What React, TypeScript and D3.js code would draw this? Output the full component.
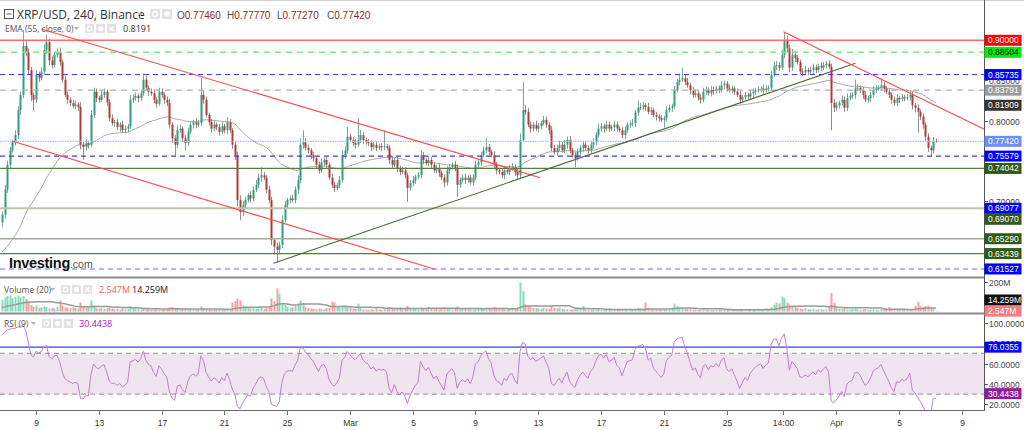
import React, { useEffect, useRef } from "react";
import * as d3 from "d3";

// ---------------- DATA ----------------
const symbolTitle = "XRP/USD, 240, Binance";
const ohlcKeys = ["O", "H", "L", "C"];
const ohlcValues = ["0.77460", "0.77770", "0.77270", "0.77420"];
const emaTitle = "EMA (55, close, 0)";
const emaValueText = "0.8191";
const volTitle = "Volume (20)";
const volValueTexts = ["2.547M", "14.259M"];
const rsiTitle = "RSI (9)";
const rsiValueText = "30.4438";

// 4h candles, first candle at 2022-02-06 20:00 UTC
const firstCandleUTC = [2022, 1, 6, 20];
const firstOpen = 0.673;
const closes = [
  0.683, 0.714, 0.745, 0.763, 0.773, 0.782, 0.813, 0.832, 0.893, 0.885, 0.863, 0.832, 0.826, 0.857, 0.853, 0.861, 0.888, 0.898, 0.875, 0.869,
  0.882, 0.885, 0.873, 0.851, 0.832, 0.826, 0.822, 0.818, 0.82, 0.817, 0.77, 0.767, 0.772, 0.77, 0.807, 0.836, 0.828, 0.826, 0.832, 0.836,
  0.823, 0.803, 0.797, 0.798, 0.792, 0.795, 0.788, 0.79, 0.793, 0.826, 0.828, 0.831, 0.828, 0.834, 0.851, 0.841, 0.836, 0.834, 0.826, 0.821,
  0.836, 0.832, 0.826, 0.822, 0.795, 0.778, 0.77, 0.788, 0.79, 0.778, 0.772, 0.786, 0.795, 0.798, 0.795, 0.797, 0.832, 0.826, 0.807, 0.798,
  0.79, 0.795, 0.792, 0.786, 0.793, 0.788, 0.798, 0.788, 0.77, 0.757, 0.701, 0.686, 0.695, 0.701, 0.707, 0.703, 0.714, 0.72, 0.729, 0.732,
  0.729, 0.714, 0.701, 0.651, 0.643, 0.639, 0.645, 0.676, 0.695, 0.701, 0.703, 0.701, 0.714, 0.726, 0.77, 0.773, 0.766, 0.763, 0.757, 0.753,
  0.745, 0.738, 0.748, 0.751, 0.745, 0.729, 0.72, 0.716, 0.72, 0.726, 0.757, 0.763, 0.78, 0.776, 0.772, 0.77, 0.776, 0.782, 0.776, 0.773,
  0.772, 0.767, 0.77, 0.766, 0.768, 0.767, 0.768, 0.766, 0.751, 0.745, 0.751, 0.741, 0.736, 0.738, 0.732, 0.716, 0.722, 0.726, 0.73, 0.732,
  0.757, 0.751, 0.747, 0.751, 0.745, 0.738, 0.741, 0.735, 0.729, 0.723, 0.738, 0.742, 0.745, 0.741, 0.72, 0.726, 0.729, 0.726, 0.729, 0.723,
  0.729, 0.745, 0.748, 0.757, 0.763, 0.767, 0.761, 0.757, 0.745, 0.738, 0.736, 0.732, 0.738, 0.736, 0.741, 0.742, 0.736, 0.732, 0.776, 0.813,
  0.811, 0.795, 0.79, 0.795, 0.79, 0.793, 0.797, 0.801, 0.795, 0.788, 0.766, 0.761, 0.766, 0.77, 0.763, 0.77, 0.776, 0.763, 0.757, 0.753,
  0.761, 0.766, 0.77, 0.766, 0.763, 0.77, 0.773, 0.782, 0.79, 0.793, 0.79, 0.795, 0.79, 0.792, 0.795, 0.79, 0.788, 0.782, 0.788, 0.795,
  0.796, 0.797, 0.81, 0.816, 0.817, 0.819, 0.817, 0.811, 0.813, 0.807, 0.805, 0.803, 0.801, 0.803, 0.813, 0.816, 0.818, 0.838, 0.848, 0.851,
  0.853, 0.848, 0.844, 0.838, 0.832, 0.834, 0.829, 0.826, 0.836, 0.838, 0.834, 0.838, 0.837, 0.84, 0.838, 0.844, 0.846, 0.84, 0.838, 0.84,
  0.836, 0.832, 0.826, 0.829, 0.832, 0.83, 0.834, 0.836, 0.838, 0.839, 0.84, 0.838, 0.84, 0.841, 0.857, 0.868, 0.869, 0.866, 0.882, 0.9,
  0.89, 0.866, 0.882, 0.878, 0.873, 0.861, 0.86, 0.863, 0.861, 0.863, 0.866, 0.863, 0.868, 0.866, 0.869, 0.871, 0.867, 0.822, 0.816, 0.819,
  0.822, 0.826, 0.816, 0.828, 0.831, 0.832, 0.84, 0.841, 0.838, 0.832, 0.826, 0.828, 0.832, 0.838, 0.84, 0.841, 0.844, 0.84, 0.836, 0.832,
  0.826, 0.822, 0.828, 0.827, 0.829, 0.828, 0.829, 0.832, 0.819, 0.816, 0.811, 0.805, 0.795, 0.78, 0.766, 0.763, 0.7746, 0.7742,
];
// upper / lower shadows, in thousandths of a dollar
const wickHi = [
  4, 6, 5, 4, 3, 6, 5, 4, 20, 6, 5, 4, 3, 6, 4, 5, 7, 9, 4, 5,
  4, 5, 6, 3, 5, 4, 3, 4, 5, 3, 6, 4, 5, 3, 6, 5, 4, 3, 5, 4,
  3, 4, 5, 3, 4, 3, 5, 4, 3, 6, 5, 4, 3, 4, 8, 5, 3, 4, 5, 3,
  5, 4, 3, 4, 5, 3, 4, 6, 5, 3, 4, 5, 4, 3, 5, 4, 21, 5, 4, 3,
  4, 5, 3, 4, 5, 3, 6, 4, 3, 5, 4, 6, 5, 4, 3, 5, 4, 6, 5, 10,
  4, 3, 5, 4, 3, 5, 4, 6, 5, 3, 4, 5, 4, 6, 8, 15, 5, 4, 3, 4,
  3, 4, 5, 3, 4, 3, 5, 4, 3, 5, 6, 5, 12, 4, 3, 5, 27, 6, 4, 3,
  4, 3, 5, 4, 3, 4, 20, 3, 4, 5, 3, 4, 3, 5, 4, 3, 4, 5, 3, 4,
  6, 4, 3, 5, 4, 3, 4, 5, 3, 4, 5, 4, 3, 5, 4, 3, 4, 5, 3, 4,
  4, 5, 3, 4, 5, 11, 4, 3, 5, 4, 3, 4, 5, 3, 4, 5, 3, 4, 8, 35,
  6, 5, 4, 3, 5, 4, 3, 5, 4, 3, 5, 4, 3, 5, 4, 6, 4, 5, 3, 4,
  4, 3, 5, 4, 3, 4, 5, 4, 6, 4, 3, 5, 4, 3, 5, 4, 3, 4, 5, 3,
  4, 5, 3, 9, 5, 4, 3, 5, 4, 3, 4, 3, 4, 3, 5, 4, 3, 5, 4, 6,
  13, 4, 5, 3, 4, 5, 3, 4, 5, 4, 3, 5, 4, 3, 4, 5, 4, 3, 5, 4,
  3, 4, 5, 3, 4, 3, 5, 4, 3, 4, 3, 5, 4, 3, 5, 6, 5, 4, 6, 10,
  6, 5, 7, 5, 4, 3, 4, 5, 3, 4, 5, 4, 3, 5, 4, 3, 4, 4, 5, 4,
  3, 5, 4, 6, 4, 3, 11, 4, 3, 4, 5, 3, 4, 5, 4, 3, 9, 4, 3, 4,
  3, 4, 5, 3, 4, 3, 4, 6, 4, 3, 4, 3, 4, 3, 4, 3, 5, 3.1,
];
const wickLo = [
  6, 5, 4, 5, 3, 4, 5, 6, 4, 5, 6, 8, 14, 4, 5, 3, 4, 5, 6, 4,
  3, 4, 5, 4, 3, 5, 4, 3, 4, 5, 6, 16, 4, 5, 3, 4, 5, 4, 3, 4,
  5, 4, 3, 5, 4, 6, 3, 4, 5, 3, 4, 3, 5, 4, 3, 4, 5, 3, 4, 5,
  3, 4, 5, 4, 5, 6, 14, 4, 3, 5, 9, 4, 3, 5, 4, 3, 4, 5, 3, 4,
  5, 3, 4, 5, 3, 4, 5, 4, 5, 6, 8, 10, 5, 4, 3, 5, 4, 3, 4, 5,
  3, 5, 4, 6, 10, 16, 5, 4, 3, 5, 4, 3, 4, 5, 4, 5, 3, 4, 5, 4,
  5, 4, 3, 4, 5, 3, 4, 5, 3, 4, 3, 5, 4, 3, 4, 5, 3, 4, 5, 3,
  4, 5, 3, 4, 3, 5, 4, 3, 5, 4, 3, 5, 4, 3, 4, 17, 3, 4, 5, 3,
  4, 5, 3, 4, 5, 3, 4, 5, 3, 6, 4, 5, 3, 4, 15, 4, 3, 5, 4, 3,
  4, 3, 5, 4, 3, 4, 5, 3, 4, 5, 3, 4, 5, 3, 4, 3, 5, 6, 4, 3,
  4, 3, 5, 4, 3, 5, 4, 3, 4, 5, 4, 3, 5, 4, 3, 4, 5, 4, 3, 11,
  3, 4, 5, 3, 4, 3, 5, 4, 3, 4, 5, 3, 4, 3, 5, 4, 3, 4, 5, 3,
  4, 3, 5, 4, 3, 4, 5, 3, 4, 3, 5, 4, 3, 10, 4, 3, 5, 4, 3, 4,
  3, 4, 3, 5, 4, 3, 4, 5, 3, 4, 3, 4, 5, 3, 4, 3, 5, 4, 3, 4,
  4, 3, 5, 4, 3, 4, 3, 5, 4, 3, 4, 5, 3, 4, 4, 3, 5, 4, 3, 4,
  5, 6, 4, 5, 3, 4, 5, 3, 4, 3, 5, 4, 3, 4, 3, 4, 3, 34, 5, 4,
  4, 3, 5, 4, 3, 4, 5, 3, 4, 5, 3, 4, 5, 3, 4, 3, 4, 5, 3, 4,
  5, 3, 4, 5, 3, 4, 3, 4, 5, 6, 26, 4, 5, 6, 5, 8, 4, 1.5,
];
// volume per candle, millions
const volumes = [
  80, 95, 105, 110, 90, 100, 108, 95, 105, 85, 70, 45, 30, 40, 25, 28, 35, 30, 22, 25,
  20, 30, 75, 40, 28, 25, 22, 28, 25, 20, 61, 35, 25, 30, 75, 40, 22, 20, 25, 18,
  22, 28, 20, 15, 18, 12, 20, 15, 18, 35, 22, 18, 15, 12, 25, 20, 15, 12, 18, 15,
  12, 15, 10, 14, 28, 30, 25, 22, 15, 12, 18, 14, 12, 10, 15, 12, 34, 20, 15, 12,
  10, 12, 15, 10, 12, 14, 12, 15, 61, 70, 88, 75, 40, 30, 25, 20, 22, 18, 20, 25,
  18, 22, 30, 88, 70, 156, 120, 60, 45, 30, 25, 28, 40, 55, 75, 60, 30, 25, 20, 18,
  15, 20, 18, 15, 22, 25, 67, 60, 30, 29, 40, 35, 29, 25, 20, 18, 53, 22, 15, 12,
  12, 15, 10, 20, 14, 12, 18, 15, 30, 25, 20, 24, 28, 20, 25, 38, 22, 18, 15, 12,
  25, 20, 15, 30, 24, 20, 18, 15, 25, 30, 22, 18, 14, 20, 35, 24, 20, 18, 15, 14,
  12, 15, 20, 18, 15, 24, 20, 22, 30, 25, 20, 18, 15, 14, 18, 15, 20, 22, 197, 139,
  48, 40, 30, 25, 22, 20, 18, 25, 20, 18, 36, 24, 20, 28, 18, 15, 14, 12, 15, 20,
  18, 15, 36, 14, 12, 10, 12, 10, 15, 12, 14, 10, 12, 9, 12, 10, 12, 14, 10, 9,
  12, 15, 20, 25, 20, 18, 60, 25, 18, 15, 12, 10, 14, 12, 15, 20, 25, 53, 35, 30,
  25, 20, 18, 15, 12, 14, 12, 10, 15, 12, 10, 9, 12, 10, 14, 12, 10, 12, 9, 10,
  12, 14, 10, 12, 15, 10, 12, 14, 15, 18, 12, 15, 20, 18, 29, 45, 60, 55, 100, 91,
  60, 45, 35, 30, 25, 20, 18, 22, 15, 14, 18, 12, 15, 14, 12, 14, 30, 125, 60, 29,
  20, 18, 22, 15, 14, 18, 20, 15, 12, 14, 15, 12, 10, 14, 12, 10, 15, 18, 14, 29,
  15, 18, 12, 14, 10, 12, 14, 12, 18, 40, 65, 36, 30, 36, 40, 25, 18, 2.547,
];
const volPriorAvg = 25; // level of the 20-bar average before the first visible bar
const emaPeriod = 55;
const emaSeed = 0.635; // EMA value before the first visible candle
const rsiPeriod = 9;
const rsiSeedGain = 0.01;
const rsiSeedLoss = 0.0016;

// horizontal levels drawn on the chart
const levelValues = [0.9, 0.88504, 0.85735, 0.83791, 0.7742, 0.75579, 0.74042, 0.69077, 0.6907, 0.6529, 0.63439, 0.61527];
const levelTexts = ["0.90000", "0.88504", "0.85735", "0.83791", "0.77420", "0.75579", "0.74042", "0.69077", "0.69070", "0.65290", "0.63439", "0.61527"];
const emaLastValue = 0.81909;
// price-axis ticks that are not hidden under a level badge
const priceTicks = [0.85, 0.8, 0.7];

// trend lines: [start time, start price, end time, end price]
const trendLines: [number[], number, number[], number][] = [
  [[2022, 1, 9, 8], 0.914, [2022, 2, 13, 3], 0.7289],
  [[2022, 1, 7, 11], 0.7746, [2022, 2, 6, 10], 0.6148],
  [[2022, 1, 24, 3], 0.6223, [2022, 3, 2, 5], 0.8714],
  [[2022, 2, 28, 15], 0.9107, [2022, 3, 10, 10], 0.7893],
];

// RSI
const rsiTicks = [100, 80, 60, 40, 20];
const rsiBand = [70, 30];
const rsiLevel = 76.0355;
const rsiLast = 30.4438;
const volTicks = [200];

// time axis
const xTickDates = [
  [2022, 1, 9], [2022, 1, 13], [2022, 1, 17], [2022, 1, 21], [2022, 1, 25], [2022, 2, 1], [2022, 2, 5], [2022, 2, 9],
  [2022, 2, 13], [2022, 2, 17], [2022, 2, 21], [2022, 2, 25], [2022, 2, 28, 14], [2022, 3, 1], [2022, 3, 5], [2022, 3, 9],
];
const xTickLabels = ["9", "13", "17", "21", "25", "Mar", "5", "9", "13", "17", "21", "25", "14:00", "Apr", "5", "9"];

// ---------------- STYLE ----------------
const levelStyles = [
  { stroke: "#ff6a6a", w: 1.6, dash: "", bg: "#ff0000", fg: "#ffffff" },
  { stroke: "#77f077", w: 1.5, dash: "6,5", bg: "#00ee00", fg: "#000000" },
  { stroke: "#3a3aff", w: 1.1, dash: "5,4", bg: "#0000ff", fg: "#ffffff" },
  { stroke: "#b0b0b0", w: 1.3, dash: "6,5", bg: "#9b9b9b", fg: "#ffffff" },
  { stroke: "#a9b8ff", w: 1.3, dash: "1.5,1", bg: "#6f8cff", fg: "#ffffff" },
  { stroke: "#3a3aff", w: 1.1, dash: "5,4", bg: "#0000ff", fg: "#ffffff" },
  { stroke: "#5b7d3d", w: 1.2, dash: "", bg: "#2f5a1a", fg: "#ffffff" },
  { stroke: "#b8c6ac", w: 2, dash: "", bg: "#0000ff", fg: "#ffffff" },
  { stroke: "#b8c6ac", w: 0, dash: "", bg: "#2f5a1a", fg: "#ffffff" },
  { stroke: "#9fb092", w: 1.6, dash: "", bg: "#2f5a1a", fg: "#ffffff" },
  { stroke: "#5b7d3d", w: 1.2, dash: "", bg: "#2f5a1a", fg: "#ffffff" },
  { stroke: "#9a9aff", w: 1.5, dash: "5,4", bg: "#0000ff", fg: "#ffffff" },
];
const trendColors = ["#ff4a4a", "#ff4a4a", "#4b6a33", "#ff4a4a"];
const UP = "#2f9e80";
const DOWN = "#b23a36";
const AXIS_FONT = "'Liberation Sans', Arial, sans-serif";
const UI_FONT = "'Open Sans', 'DejaVu Sans', sans-serif";

const utc = (a: number[]) => new Date(Date.UTC(a[0], a[1], a[2], a[3] || 0));

function draw(el: SVGSVGElement) {
  const svg = d3.select(el);
  svg.selectAll("*").remove();

  const R = 984;
  const mainTop = 0, mainBot = 277;
  const volTop = 278, volBot = 313;
  const rsiTop = 314, rsiBot = 410;

  const x = d3.scaleUtc().domain([utc([2022, 1, 9]), utc([2022, 3, 9])]).range([36, 962]);
  const y = d3.scaleLinear().domain([0.9, 0.6]).range([40.3, 281.2]);
  const yv = d3.scaleLinear().domain([0, 200]).range([311.5, 282]);
  const yr = d3.scaleLinear().domain([100, 20]).range([322.7, 404.3]);

  const t0 = utc(firstCandleUTC).getTime();
  const n = Math.min(closes.length, wickHi.length, wickLo.length, volumes.length);
  const candles = d3.range(n).map((i) => {
    const o = i === 0 ? firstOpen : closes[i - 1];
    const c = closes[i];
    return {
      t: new Date(t0 + i * 4 * 3600 * 1000),
      o, c,
      h: Math.max(o, c) + wickHi[i] / 1000,
      l: Math.min(o, c) - wickLo[i] / 1000,
      v: volumes[i],
    };
  });

  // indicators
  const k = 2 / (emaPeriod + 1);
  let e = emaSeed;
  const ema = candles.map((d) => (e = e + k * (d.c - e)));
  let ag = rsiSeedGain, al = rsiSeedLoss;
  const rsi = candles.map((d, i) => {
    const prev = i === 0 ? d.o : candles[i - 1].c;
    const ch = d.c - prev;
    ag = (ag * (rsiPeriod - 1) + Math.max(ch, 0)) / rsiPeriod;
    al = (al * (rsiPeriod - 1) + Math.max(-ch, 0)) / rsiPeriod;
    return 100 - 100 / (1 + ag / al);
  });
  const volMa = candles.map((_, i) => {
    let s = 0;
    for (let j = i - 19; j <= i; j++) s += j < 0 ? volPriorAvg : volumes[j];
    return s / 20;
  });

  svg.append("rect").attr("width", 1024).attr("height", 430).attr("fill", "#fff");

  const defs = svg.append("defs");
  defs.append("clipPath").attr("id", "cMain").append("rect").attr("x", 0).attr("y", mainTop).attr("width", R).attr("height", mainBot - mainTop);
  defs.append("clipPath").attr("id", "cVol").append("rect").attr("x", 0).attr("y", volTop).attr("width", R).attr("height", volBot - volTop);
  defs.append("clipPath").attr("id", "cRsi").append("rect").attr("x", 0).attr("y", rsiTop).attr("width", R).attr("height", rsiBot - rsiTop);

  // ---------- main pane ----------
  const gm = svg.append("g").attr("clip-path", "url(#cMain)");

  // EMA
  gm.append("path")
    .datum(candles)
    .attr("fill", "none")
    .attr("stroke", "#a9a9a9")
    .attr("stroke-width", 1)
    .attr("d", d3.line<any>().x((d) => x(d.t)).y((_, i) => y(ema[i])));

  // candles
  const gc = gm.append("g");
  candles.forEach((d) => {
    const cx = Math.round(x(d.t)) + 0.5;
    const up = d.c >= d.o;
    gc.append("line").attr("x1", cx).attr("x2", cx).attr("y1", y(d.h)).attr("y2", y(d.l))
      .attr("stroke", up ? "#7fa59a" : "#9a8a88").attr("stroke-width", 1);
    const yt = y(Math.max(d.o, d.c));
    const yb = y(Math.min(d.o, d.c));
    gc.append("rect").attr("x", cx - 1).attr("width", 2).attr("y", yt).attr("height", Math.max(1, yb - yt))
      .attr("fill", up ? UP : DOWN);
  });

  // levels
  levelValues.forEach((v, i) => {
    const s = levelStyles[i];
    if (!s.w) return;
    gm.append("line").attr("x1", 0).attr("x2", R).attr("y1", y(v)).attr("y2", y(v))
      .attr("stroke", s.stroke).attr("stroke-width", s.w).attr("stroke-dasharray", s.dash || null);
  });

  // trend lines
  trendLines.forEach((tl, i) => {
    gm.append("line")
      .attr("x1", x(utc(tl[0]))).attr("y1", y(tl[1]))
      .attr("x2", x(utc(tl[2]))).attr("y2", y(tl[3]))
      .attr("stroke", trendColors[i]).attr("stroke-width", 1.1);
  });

  // Investing.com logo
  const logo = svg.append("text").attr("x", 9).attr("y", 268).attr("font-family", AXIS_FONT);
  logo.append("tspan").text("Investing").attr("font-size", 14.5).attr("font-weight", 700).attr("fill", "#111").attr("letter-spacing", -0.3);
  logo.append("tspan").text(".com").attr("font-size", 10.5).attr("fill", "#555");

  // ---------- volume pane ----------
  const gv = svg.append("g").attr("clip-path", "url(#cVol)");
  candles.forEach((d) => {
    const cx = Math.round(x(d.t)) + 0.5;
    const up = d.c >= d.o;
    gv.append("rect").attr("x", cx - 1).attr("width", 2).attr("y", yv(d.v)).attr("height", yv(0) - yv(d.v))
      .attr("fill", up ? "#86dcbb" : "#f5a1a1");
  });
  gv.append("path").datum(candles).attr("fill", "none").attr("stroke", "#9a9a9a").attr("stroke-width", 1.5)
    .attr("d", d3.line<any>().x((d) => x(d.t)).y((_, i) => yv(volMa[i])));

  // ---------- RSI pane ----------
  const gr = svg.append("g").attr("clip-path", "url(#cRsi)");
  gr.append("rect").attr("x", 0).attr("width", R).attr("y", yr(rsiBand[0])).attr("height", yr(rsiBand[1]) - yr(rsiBand[0]))
    .attr("fill", "#f1e4f1");
  rsiBand.forEach((v) => {
    gr.append("line").attr("x1", 0).attr("x2", R).attr("y1", yr(v)).attr("y2", yr(v))
      .attr("stroke", "#a8a0a8").attr("stroke-width", 1.2).attr("stroke-dasharray", "5,4");
  });
  gr.append("line").attr("x1", 0).attr("x2", R).attr("y1", yr(rsiLevel)).attr("y2", yr(rsiLevel))
    .attr("stroke", "#3c3cff").attr("stroke-width", 1.2);
  gr.append("path").datum(candles).attr("fill", "none").attr("stroke", "#c47fd0").attr("stroke-width", 1)
    .attr("d", d3.line<any>().x((d) => x(d.t)).y((_, i) => yr(rsi[i])));

  // ---------- frames ----------
  svg.append("line").attr("x1", 0).attr("x2", 1024).attr("y1", 0.5).attr("y2", 0.5).attr("stroke", "#cfcfcf");
  [mainBot + 0.5, volBot + 0.5].forEach((yy) =>
    svg.append("line").attr("x1", 0).attr("x2", R).attr("y1", yy).attr("y2", yy).attr("stroke", "#8a8a8a").attr("stroke-width", 2));
  svg.append("line").attr("x1", 0).attr("x2", R).attr("y1", rsiBot + 0.5).attr("y2", rsiBot + 0.5).attr("stroke", "#666");
  svg.append("line").attr("x1", R + 0.5).attr("x2", R + 0.5).attr("y1", 0).attr("y2", rsiBot + 1).attr("stroke", "#555");

  // ---------- right axis ----------
  const ax = svg.append("g").attr("font-family", AXIS_FONT).attr("font-size", 8.5);
  const tick = (yy: number, txt: string) => {
    ax.append("line").attr("x1", R).attr("x2", R + 4).attr("y1", yy).attr("y2", yy).attr("stroke", "#555");
    ax.append("text").attr("x", R + 5).attr("y", yy + 3).attr("fill", "#444").text(txt);
  };
  priceTicks.forEach((v) => tick(Math.round(y(v)) + 0.5, v.toFixed(5)));
  volTicks.forEach((v) => tick(Math.round(yv(v)) + 0.5, v + "M"));
  rsiTicks.forEach((v) => tick(Math.round(yr(v)) + 0.5, v.toFixed(4)));

  const badge = (yy: number, txt: string, bg: string, fg: string) => {
    ax.append("rect").attr("x", R + 0.5).attr("y", yy - 5.5).attr("width", 37).attr("height", 11).attr("fill", bg);
    ax.append("text").attr("x", R + 4).attr("y", yy + 3).attr("fill", fg).text(txt);
  };
  // price badges with simple collision avoidance
  const items = levelValues.map((v, i) => ({ y: y(v), txt: levelTexts[i], bg: levelStyles[i].bg, fg: levelStyles[i].fg }));
  items.push({ y: y(emaLastValue), txt: emaLastValue.toFixed(5), bg: "#333333", fg: "#ffffff" });
  items.sort((a, b) => a.y - b.y);
  let last = -100;
  items.forEach((it) => {
    let yy = it.y;
    if (yy < last + 11) yy = last + 11;
    last = yy;
    badge(yy, it.txt, it.bg, it.fg);
  });
  // volume badges
  const vMaY = yv(volMa[n - 1]);
  badge(Math.min(vMaY, 300), volValueTexts[1], "#111111", "#ffffff");
  badge(Math.max(yv(volumes[n - 1]), Math.min(vMaY, 300) + 9), volValueTexts[0], "#f47c7c", "#ffffff");
  // rsi badges
  badge(yr(rsiLevel), rsiLevel.toFixed(4), "#0000ff", "#ffffff");
  badge(yr(rsiLast), rsiLast.toFixed(4), "#8e1e96", "#ffffff");

  // ---------- time axis ----------
  const gx = svg.append("g").attr("font-family", AXIS_FONT).attr("font-size", 8.5).attr("fill", "#333");
  xTickDates.forEach((d, i) => {
    const xx = Math.round(x(utc(d))) + 0.5;
    gx.append("line").attr("x1", xx).attr("x2", xx).attr("y1", rsiBot + 1).attr("y2", rsiBot + 5).attr("stroke", "#777");
    gx.append("text").attr("x", xx).attr("y", 426).attr("text-anchor", "middle").text(xTickLabels[i]);
  });

  // ---------- headers ----------
  const icons = (x0: number, yTop: number, count: number, size: number) => {
    for (let i = 0; i < count; i++) {
      const g = svg.append("g").attr("transform", `translate(${x0 + i * (size + 2)},${yTop})`);
      g.append("rect").attr("width", size).attr("height", size).attr("fill", "#e2e2e2");
      if (i === 0) g.append("circle").attr("cx", size / 2).attr("cy", size / 2).attr("r", size * 0.25).attr("fill", "none").attr("stroke", "#fff").attr("stroke-width", 1.3);
      if (i === 1) g.append("circle").attr("cx", size / 2).attr("cy", size / 2).attr("r", size * 0.28).attr("fill", "#fff");
      if (i === 2) {
        g.append("line").attr("x1", 2.5).attr("y1", 2.5).attr("x2", size - 2.5).attr("y2", size - 2.5).attr("stroke", "#fff").attr("stroke-width", 1.3);
        g.append("line").attr("x1", size - 2.5).attr("y1", 2.5).attr("x2", 2.5).attr("y2", size - 2.5).attr("stroke", "#fff").attr("stroke-width", 1.3);
      }
    }
  };
  const caret = (xx: number, yy: number) =>
    svg.append("path").attr("d", `M${xx},${yy} l5,0 l-2.5,3 z`).attr("fill", "#b0b0b0");

  // main header
  svg.append("rect").attr("x", 4.5).attr("y", 9.5).attr("width", 9).attr("height", 9).attr("fill", "#fff").attr("stroke", "#555");
  svg.append("line").attr("x1", 6.5).attr("x2", 11.5).attr("y1", 14).attr("y2", 14).attr("stroke", "#555");
  svg.append("text").attr("x", 17).attr("y", 19).attr("font-family", UI_FONT).attr("font-size", 12).attr("fill", "#333").text(symbolTitle);
  caret(138, 13);
  icons(150, 9, 2, 10);
  ohlcKeys.forEach((key, i) => {
    const t = svg.append("text").attr("x", 177 + i * 50).attr("y", 19).attr("font-family", AXIS_FONT).attr("font-size", 10);
    t.append("tspan").attr("fill", "#555").text(key);
    t.append("tspan").attr("fill", "#8f2a2a").text(ohlcValues[i]);
  });

  svg.append("text").attr("x", 5).attr("y", 32).attr("font-family", UI_FONT).attr("font-size", 8.5).attr("fill", "#555").text(emaTitle);
  caret(74, 27);
  icons(85, 24, 3, 9);
  svg.append("text").attr("x", 123).attr("y", 32).attr("font-family", UI_FONT).attr("font-size", 9).attr("fill", "#333").text(emaValueText);

  svg.append("text").attr("x", 4).attr("y", 293).attr("font-family", UI_FONT).attr("font-size", 8.5).attr("fill", "#555").text(volTitle);
  caret(50, 288);
  icons(61, 285, 3, 9);
  svg.append("text").attr("x", 99).attr("y", 293).attr("font-family", UI_FONT).attr("font-size", 9).attr("fill", "#f05a5a").text(volValueTexts[0]);
  svg.append("text").attr("x", 132).attr("y", 293).attr("font-family", UI_FONT).attr("font-size", 9).attr("fill", "#222").text(volValueTexts[1]);

  svg.append("text").attr("x", 4).attr("y", 327).attr("font-family", UI_FONT).attr("font-size", 8.5).attr("fill", "#555").text(rsiTitle);
  caret(31, 322);
  icons(42, 319, 3, 9);
  svg.append("text").attr("x", 79).attr("y", 327).attr("font-family", UI_FONT).attr("font-size", 9).attr("fill", "#9b2aa8").text(rsiValueText);
}

export default function App() {
  const ref = useRef<SVGSVGElement>(null);
  useEffect(() => {
    if (ref.current) draw(ref.current);
  }, []);
  return (
    <svg
      ref={ref}
      width={1024}
      height={430}
      style={{ position: "absolute", left: 0, top: 0, display: "block" }}
    />
  );
}
